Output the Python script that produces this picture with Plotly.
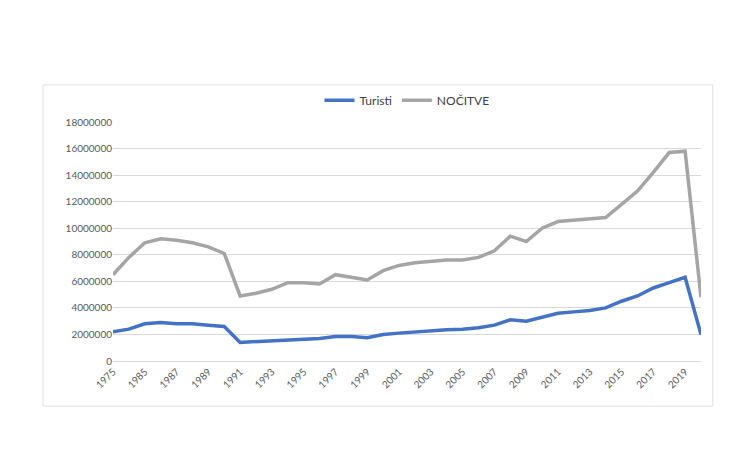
import plotly.graph_objects as go

years = ["1975", "1980"] + [str(y) for y in range(1985, 2021)]
turisti = [2.2e6, 2.4e6, 2.8e6, 2.9e6, 2.8e6, 2.8e6, 2.7e6, 2.6e6, 1.4e6, 1.45e6, 1.5e6, 1.6e6, 1.6e6, 1.7e6,
           1.85e6, 1.85e6, 1.75e6, 2.0e6, 2.1e6, 2.2e6, 2.25e6, 2.35e6, 2.4e6, 2.5e6, 2.7e6, 3.1e6, 3.0e6,
           3.3e6, 3.6e6, 3.7e6, 3.8e6, 4.0e6, 4.5e6, 4.9e6, 5.5e6, 5.9e6, 6.3e6, 2.0e6]
nocitve = [6.5e6, 7.8e6, 8.9e6, 9.2e6, 9.1e6, 8.9e6, 8.6e6, 8.1e6, 4.9e6, 5.1e6, 5.4e6, 5.9e6, 5.9e6, 5.8e6,
           6.5e6, 6.3e6, 6.1e6, 6.8e6, 7.2e6, 7.4e6, 7.5e6, 7.6e6, 7.6e6, 7.8e6, 8.3e6, 9.4e6, 9.0e6,
           10.0e6, 10.5e6, 10.6e6, 10.7e6, 10.8e6, 11.8e6, 12.8e6, 14.2e6, 15.7e6, 15.8e6, 4.8e6]
tick_labels = years[0:1] + years[2::2]

fig = go.Figure()
fig.add_trace(go.Scatter(x=years, y=turisti, name="Turisti", mode="lines",
                         line=dict(color="#4472C4", width=3.5)))
fig.add_trace(go.Scatter(x=years, y=nocitve, name="NOČITVE", mode="lines",
                         line=dict(color="#A5A5A5", width=3.5)))
fig.update_layout(
    width=750, height=454, margin=dict(l=105, r=57, t=114, b=101),
    paper_bgcolor="white", plot_bgcolor="white",
    font=dict(family="Lato, DejaVu Sans", size=10, color="#595959"),
    legend=dict(orientation="h", x=0.5, xanchor="center", y=1.03, yanchor="bottom",
                font=dict(size=12, color="#404040")),
    xaxis=dict(type="category", tickmode="array", tickvals=tick_labels, ticktext=tick_labels,
               tickangle=-45, showgrid=False, showline=True, linecolor="#D9D9D9",
               range=[0, 37], ticks="", automargin=False),
    yaxis=dict(range=[0, 18e6], dtick=2e6, tickformat="d", gridcolor="#D9D9D9",
               zeroline=False, showline=False, automargin=False),
    shapes=[dict(type="rect", xref="paper", yref="paper", x0=-0.119, x1=1.02, y0=-0.189, y1=1.155,
                 line=dict(color="#E0E0E0", width=1))],
)
fig.write_html("out.html")
